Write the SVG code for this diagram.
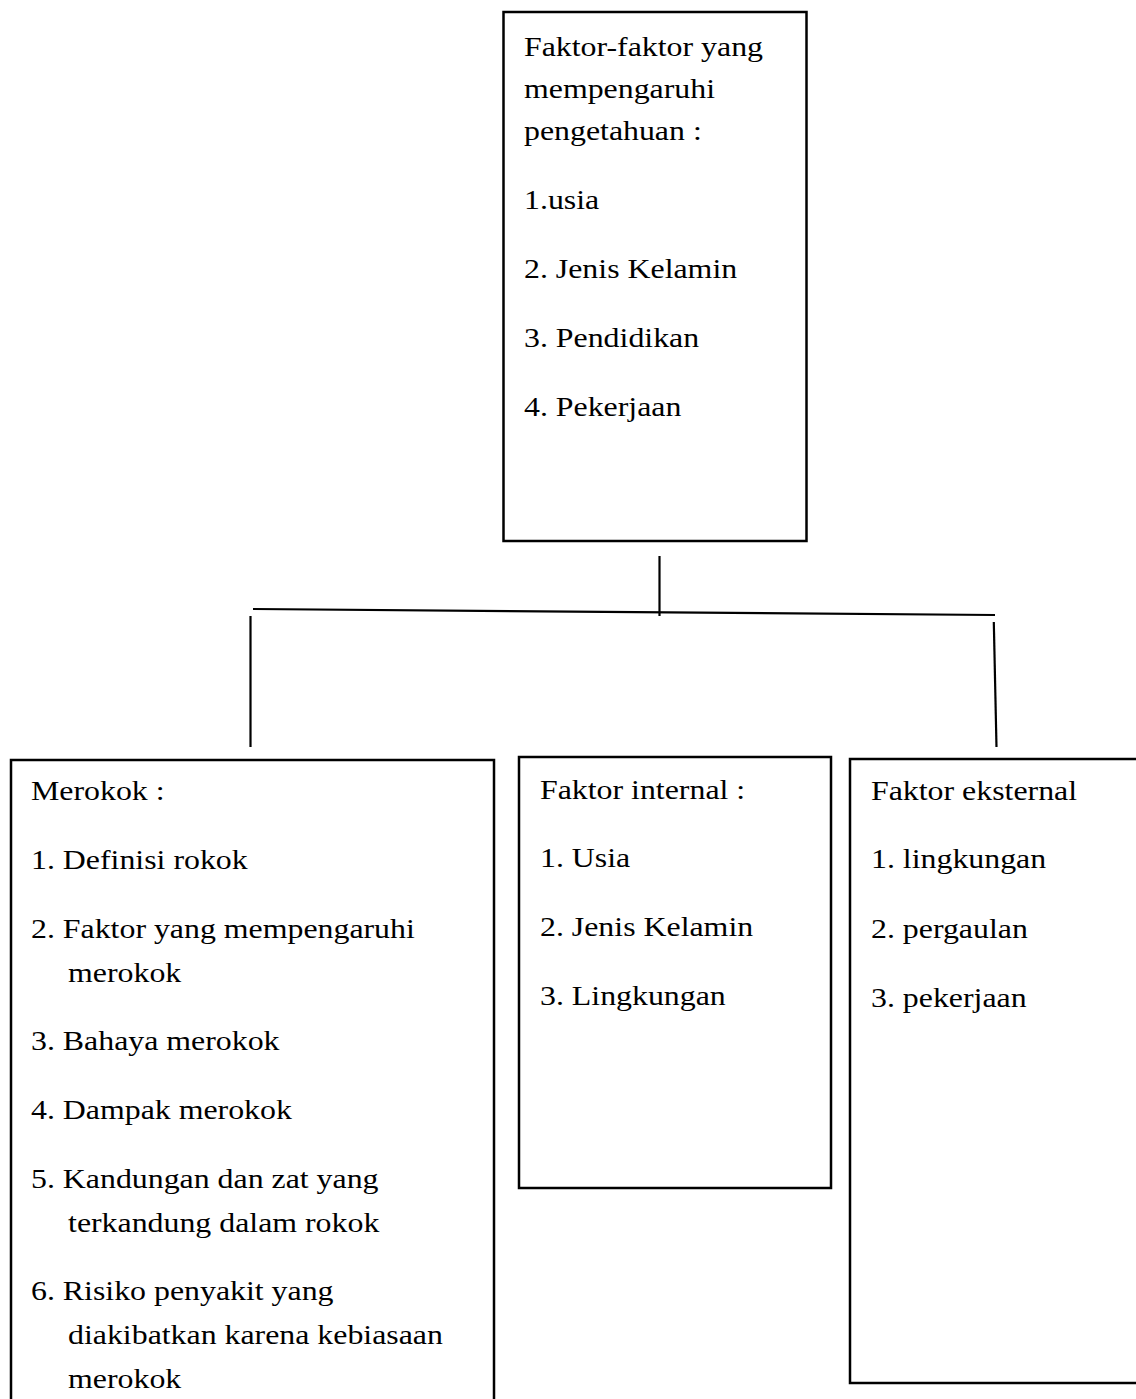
<svg xmlns="http://www.w3.org/2000/svg" width="1136" height="1399" viewBox="0 0 1136 1399">
<style>
  .box { fill: #ffffff; stroke: #000000; stroke-width: 2.5; }
  .conn { fill: none; stroke: #000000; stroke-width: 2.2; stroke-linecap: butt; }
  text { font-family: "Liberation Serif", "Times New Roman", serif; font-size: 27px; fill: #000000; }
</style>
<rect x="0" y="0" width="1136" height="1399" fill="#ffffff"/>

<g id="connectors">
  <line class="conn" x1="659.5" y1="556" x2="659.5" y2="616"/>
  <line class="conn" x1="253" y1="609" x2="995" y2="615"/>
  <line class="conn" x1="250.5" y1="616" x2="250.5" y2="747"/>
  <line class="conn" x1="993.8" y1="622" x2="996.5" y2="747"/>
</g>

<g id="node-pengetahuan">
  <rect class="box" x="503.5" y="12" width="303" height="529"/>
  <g transform="translate(524 0) scale(1.18 1)">
    <text x="0" y="56">Faktor-faktor yang</text>
    <text x="0" y="98">mempengaruhi</text>
    <text x="0" y="140">pengetahuan :</text>
    <text x="0" y="209">1.usia</text>
    <text x="0" y="278">2. Jenis Kelamin</text>
    <text x="0" y="347">3. Pendidikan</text>
    <text x="0" y="416">4. Pekerjaan</text>
  </g>
</g>

<g id="node-merokok">
  <rect class="box" x="11" y="760" width="483" height="660"/>
  <g transform="translate(31 0) scale(1.18 1)">
    <text x="0" y="800">Merokok :</text>
    <text x="0" y="869">1. Definisi rokok</text>
    <text x="0" y="938">2. Faktor yang mempengaruhi</text>
    <text x="31.4" y="982">merokok</text>
    <text x="0" y="1050">3. Bahaya merokok</text>
    <text x="0" y="1119">4. Dampak merokok</text>
    <text x="0" y="1188">5. Kandungan dan zat yang</text>
    <text x="31.4" y="1232">terkandung dalam rokok</text>
    <text x="0" y="1300">6. Risiko penyakit yang</text>
    <text x="31.4" y="1344">diakibatkan karena kebiasaan</text>
    <text x="31.4" y="1388">merokok</text>
  </g>
</g>

<g id="node-internal">
  <rect class="box" x="519" y="757" width="312" height="431"/>
  <g transform="translate(540 0) scale(1.18 1)">
    <text x="0" y="799">Faktor internal :</text>
    <text x="0" y="867">1. Usia</text>
    <text x="0" y="936">2. Jenis Kelamin</text>
    <text x="0" y="1005">3. Lingkungan</text>
  </g>
</g>

<g id="node-eksternal">
  <rect class="box" x="850" y="759" width="300" height="624"/>
  <g transform="translate(871 0) scale(1.18 1)">
    <text x="0" y="800">Faktor eksternal</text>
    <text x="0" y="868">1. lingkungan</text>
    <text x="0" y="938">2. pergaulan</text>
    <text x="0" y="1007">3. pekerjaan</text>
  </g>
</g>
</svg>
